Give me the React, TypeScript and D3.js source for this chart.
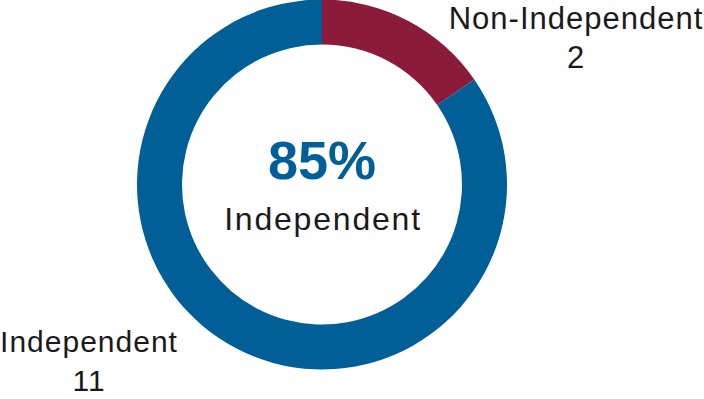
import React from "react";
import * as d3 from "d3";

const categories = ["Non-Independent", "Independent"];
const values = [2, 11];
const colors = ["#8c1a3b", "#005f96"];
const centerValue = "85%";
const centerLabel = "Independent";

const W = 704;
const H = 399;
const cx = 322;
const cy = 184.5;
const outerR = 185;
const innerR = 140;

const labelPos = [
  { x: 576, y1: 29, y2: 68, size: 31 },
  { x: 89, y1: 352, y2: 391, size: 30 },
];

export default function App() {
  const pie = d3.pie<number>().sort(null).value((d) => d);
  const arcs = pie(values);
  const arc = d3.arc<d3.PieArcDatum<number>>().innerRadius(innerR).outerRadius(outerR);
  const font = "'Liberation Sans', Arial, Helvetica, sans-serif";
  return (
    <svg
      width={W}
      height={H}
      style={{ position: "absolute", left: 0, top: 0, background: "#fff" }}
    >
      <g transform={`translate(${cx},${cy})`}>
        {arcs.map((a, i) => (
          <path key={i} d={arc(a) || ""} fill={colors[i]} />
        ))}
        <text
          x={0}
          y={179 - cy}
          textAnchor="middle"
          fontFamily={font}
          fontWeight="bold"
          fontSize={54}
          fill={colors[1]}
        >
          {centerValue}
        </text>
        <text
          x={1}
          y={230 - cy}
          textAnchor="middle"
          fontFamily={font}
          fontSize={32}
          letterSpacing={1.8}
          fill="#1a1a1a"
        >
          {centerLabel}
        </text>
      </g>
      {categories.map((c, i) => (
        <g key={c}>
          <text
            x={labelPos[i].x}
            y={labelPos[i].y1}
            textAnchor="middle"
            fontFamily={font}
            fontSize={labelPos[i].size}
            letterSpacing={1}
            fill="#1a1a1a"
          >
            {c}
          </text>
          <text
            x={labelPos[i].x}
            y={labelPos[i].y2}
            textAnchor="middle"
            fontFamily={font}
            fontSize={labelPos[i].size}
            letterSpacing={1}
            fill="#1a1a1a"
          >
            {values[i]}
          </text>
        </g>
      ))}
    </svg>
  );
}
